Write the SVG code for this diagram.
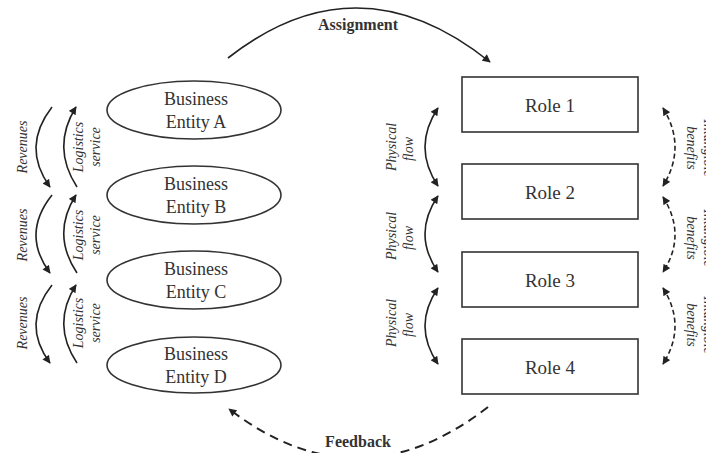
<svg xmlns="http://www.w3.org/2000/svg" width="706" height="453" viewBox="0 0 706 453">
<style>
.node{fill:#fff;stroke:#333;stroke-width:1.6}
.nt{font-family:"Liberation Serif",serif;font-size:18px;fill:#333;text-anchor:middle}
.lab{font-family:"Liberation Serif",serif;font-size:14px;font-style:italic;fill:#333;text-anchor:middle}
.big{font-family:"Liberation Serif",serif;font-size:16px;font-weight:bold;fill:#333;text-anchor:middle}
.c{fill:none;stroke:#222;stroke-width:1.6}
.d{fill:none;stroke:#222;stroke-width:1.6;stroke-dasharray:5 3}
.fb{fill:none;stroke:#222;stroke-width:2;stroke-dasharray:9 6}
</style>
<defs>
<marker id="ah" viewBox="0 0 10 10" refX="9" refY="5" markerWidth="9" markerHeight="8" orient="auto-start-reverse" markerUnits="userSpaceOnUse">
<path d="M0,0 L10,5 L0,10 z" fill="#222"/>
</marker>
</defs>
<g id="entityA"><ellipse class="node" cx="194" cy="110" rx="87" ry="29"/><text class="nt" x="196" y="105">Business</text><text class="nt" x="196" y="128">Entity A</text></g>
<g id="entityB"><ellipse class="node" cx="194" cy="195" rx="87" ry="29"/><text class="nt" x="196" y="190">Business</text><text class="nt" x="196" y="213">Entity B</text></g>
<g id="entityC"><ellipse class="node" cx="194" cy="280" rx="87" ry="29"/><text class="nt" x="196" y="275">Business</text><text class="nt" x="196" y="298">Entity C</text></g>
<g id="entityD"><ellipse class="node" cx="194" cy="365" rx="87" ry="28"/><text class="nt" x="196" y="360">Business</text><text class="nt" x="196" y="383">Entity D</text></g>
<g id="role1"><rect class="node" x="462" y="77" width="176" height="55"/><text class="nt" x="550" y="112" style="font-size:19px">Role 1</text></g>
<g id="role2"><rect class="node" x="462" y="164" width="176" height="55"/><text class="nt" x="550" y="199" style="font-size:19px">Role 2</text></g>
<g id="role3"><rect class="node" x="462" y="252" width="176" height="55"/><text class="nt" x="550" y="287" style="font-size:19px">Role 3</text></g>
<g id="role4"><rect class="node" x="462" y="339" width="176" height="55"/><text class="nt" x="550" y="374" style="font-size:19px">Role 4</text></g>
<g id="connectors">
<path class="c" d="M228,58 Q358,-44 490,62" marker-end="url(#ah)"/>
<path class="fb" d="M488,407 Q358,508 229,409" marker-end="url(#ah)"/>
<path class="c" d="M52,107 Q21,147 50,187" marker-end="url(#ah)"/>
<path class="c" d="M77,187 Q51,147 76,107" marker-end="url(#ah)"/>
<path class="c" d="M52,195 Q21,234 50,273" marker-end="url(#ah)"/>
<path class="c" d="M77,273 Q51,234 76,195" marker-end="url(#ah)"/>
<path class="c" d="M52,285 Q21,324 50,363" marker-end="url(#ah)"/>
<path class="c" d="M77,363 Q51,324 76,285" marker-end="url(#ah)"/>
<path class="c" d="M438,108 Q412,147 438,186" marker-start="url(#ah)" marker-end="url(#ah)"/>
<path class="c" d="M438,196 Q412,234 438,272" marker-start="url(#ah)" marker-end="url(#ah)"/>
<path class="c" d="M438,288 Q412,326 438,364" marker-start="url(#ah)" marker-end="url(#ah)"/>
<path class="d" d="M663,108 Q687,147 663,186" marker-start="url(#ah)" marker-end="url(#ah)"/>
<path class="d" d="M663,197 Q687,235 663,272" marker-start="url(#ah)" marker-end="url(#ah)"/>
<path class="d" d="M663,288 Q687,326 663,364" marker-start="url(#ah)" marker-end="url(#ah)"/>
</g>
<g id="labels">
<text class="big" x="358" y="30">Assignment</text>
<text class="big" x="358" y="447">Feedback</text>
<text class="lab" transform="translate(27,147) rotate(-90)">Revenues</text>
<text class="lab" transform="translate(83,147) rotate(-90)">Logistics</text>
<text class="lab" transform="translate(100,147) rotate(-90)">service</text>
<text class="lab" transform="translate(27,235) rotate(-90)">Revenues</text>
<text class="lab" transform="translate(83,235) rotate(-90)">Logistics</text>
<text class="lab" transform="translate(100,235) rotate(-90)">service</text>
<text class="lab" transform="translate(27,323) rotate(-90)">Revenues</text>
<text class="lab" transform="translate(83,323) rotate(-90)">Logistics</text>
<text class="lab" transform="translate(100,323) rotate(-90)">service</text>
<text class="lab" transform="translate(396,147) rotate(-90)">Physical</text>
<text class="lab" transform="translate(413,149) rotate(-90)">flow</text>
<text class="lab" transform="translate(396,236) rotate(-90)">Physical</text>
<text class="lab" transform="translate(413,238) rotate(-90)">flow</text>
<text class="lab" transform="translate(396,323) rotate(-90)">Physical</text>
<text class="lab" transform="translate(413,325) rotate(-90)">flow</text>
<text class="lab" transform="translate(687,148) rotate(90)">benefits</text>
<text class="lab" transform="translate(704,148) rotate(90)">Intangible</text>
<text class="lab" transform="translate(687,238) rotate(90)">benefits</text>
<text class="lab" transform="translate(704,238) rotate(90)">Intangible</text>
<text class="lab" transform="translate(687,325) rotate(90)">benefits</text>
<text class="lab" transform="translate(704,325) rotate(90)">Intangible</text>
</g>
</svg>
